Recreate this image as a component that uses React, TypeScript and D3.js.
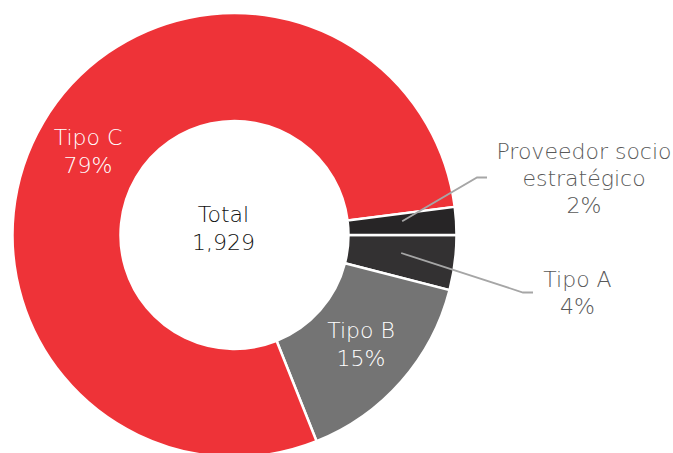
import { useEffect, useRef } from 'react';
import * as d3 from 'd3';

const categories = ['Tipo A', 'Tipo B', 'Tipo C', 'Proveedor socio estratégico'];
const values = [77, 289, 1524, 39];
const colors = ['#333132', '#747474', '#EE3338', '#272526'];

const W = 673;
const H = 453;

const App = () => {
  const svgRef = useRef<SVGSVGElement>(null);

  useEffect(() => {
    if (!svgRef.current) return;
    const root = d3.select(svgRef.current);
    root.selectAll('*').remove();

    const cx = 234.5;
    const cy = 235;
    const outer = 222;
    const inner = 114;
    const font = "'DejaVu Sans', sans-serif";
    const fs = '22px';
    const lh = 28;

    const total = d3.sum(values);
    const pie = d3.pie<number>()
      .sort(null)
      .startAngle(Math.PI / 2)
      .endAngle(Math.PI / 2 + 2 * Math.PI);
    const arcs = pie(values);
    const arc = d3.arc<d3.PieArcDatum<number>>()
      .innerRadius(inner)
      .outerRadius(outer);

    const g = root.append('g').attr('transform', `translate(${cx},${cy})`);

    g.selectAll('path')
      .data(arcs)
      .join('path')
      .attr('d', arc)
      .attr('fill', (_, i) => colors[i])
      .attr('stroke', '#fff')
      .attr('stroke-width', 2.5)
      .attr('stroke-linejoin', 'miter');

    const pct = (v: number) => `${Math.round((v / total) * 100)}%`;

    // center label
    const center = root.append('text')
      .attr('y', 222)
      .attr('text-anchor', 'middle')
      .style('font-family', font)
      .style('font-weight', 200)
      .style('font-size', fs)
      .style('fill', '#111');
    center.append('tspan').attr('x', 223.5).text('Total');
    center.append('tspan').attr('x', 223.5).attr('dy', lh).text(d3.format(',')(total));

    // inside labels
    const inside = [
      { i: 2, x: 88, y: 145 },
      { i: 1, x: 361, y: 338 },
    ];
    inside.forEach(({ i, x, y }) => {
      const t = root.append('text')
        .attr('text-anchor', 'middle')
        .attr('y', y)
        .style('font-family', font)
        .style('font-weight', 200)
        .style('font-size', fs)
        .style('fill', '#fff');
      t.append('tspan').attr('x', x).text(categories[i]);
      t.append('tspan').attr('x', x).attr('dy', lh).text(pct(values[i]));
    });

    // outside labels with leader lines
    const outside = [
      { i: 3, lines: ['Proveedor socio', 'estratégico'], x: 584, y: 159, gap: 27, elbow: [477, 177.5], end: [487, 177.5] },
      { i: 0, lines: ['Tipo A'], x: 577.5, y: 287, gap: 27, elbow: [523, 292.5], end: [533, 292.5] },
    ];
    outside.forEach(({ i, lines, x, y, gap, elbow, end }) => {
      const [sx, sy] = arc.centroid(arcs[i]);
      root.append('polyline')
        .attr('points', `${cx + sx},${cy + sy - 3} ${elbow[0]},${elbow[1]} ${end[0]},${end[1]}`)
        .attr('fill', 'none')
        .attr('stroke', '#A6A6A6')
        .attr('stroke-width', 1.8);
      const t = root.append('text')
        .attr('text-anchor', 'middle')
        .attr('y', y)
        .style('font-family', font)
        .style('font-weight', 200)
        .style('font-size', fs)
        .style('fill', '#595959');
      [...lines, pct(values[i])].forEach((s, k) => {
        t.append('tspan').attr('x', x).attr('dy', k === 0 ? 0 : gap).text(s);
      });
    });
  }, []);

  return (
    <div style={{ position: 'absolute', left: 0, top: 0 }}>
      <svg ref={svgRef} width={W} height={H} style={{ display: 'block', background: '#fff' }} />
    </div>
  );
};

export default App;
